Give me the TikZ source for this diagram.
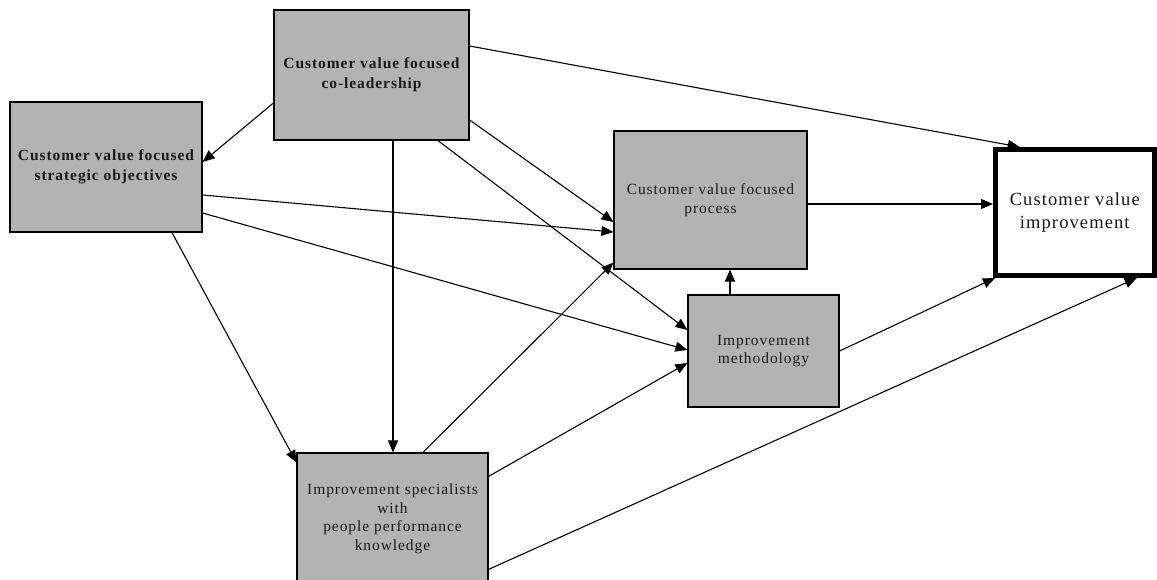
\documentclass[tikz,border=0pt]{standalone}
\usepackage{fontspec}
\setmainfont{Liberation Serif}
\newfontfamily\labelfont[LetterSpace=6]{Liberation Serif}
\usetikzlibrary{arrows.meta}
\definecolor{boxgray}{HTML}{B3B3B3}

\begin{document}
\begin{tikzpicture}[x=1pt,y=-1pt,
  box/.style={draw=black, line width=1.2pt, fill=boxgray, inner sep=0pt,
    align=center, text=black!90,
    font=\labelfont\fontsize{15.5}{18.5}\selectfont},
  boldbox/.style={box, font=\labelfont\bfseries\fontsize{15.5}{20}\selectfont},
  goalbox/.style={draw=black, line width=5pt, fill=white, inner sep=0pt,
    align=center, text=black!90,
    font=\labelfont\fontsize{18.5}{23}\selectfont},
  link/.style={line width=1.1pt, -{Triangle[length=12pt,width=10pt]}}]

\useasboundingbox[fill=white] (0,0) rectangle (1157,580);

% boxes
\node[boldbox, minimum width=195pt, minimum height=130pt] (top) at (371.5,75)
  {\raisebox{-2pt}{\begin{tabular}{@{}c@{}}Customer value focused\\co-leadership\end{tabular}}};
\node[boldbox, minimum width=192pt, minimum height=130pt] (lb) at (106,167)
  {Customer value focused\\strategic objectives};
\node[box, minimum width=193pt, minimum height=138pt] (proc) at (710.5,200)
  {Customer value focused\\process};
\node[box, minimum width=151pt, minimum height=112pt] (meth) at (763.5,351)
  {Improvement\\methodology};
\node[box, minimum width=191pt, minimum height=132pt] (spec) at (392.5,519)
  {Improvement specialists\\with\\people performance\\knowledge};
\node[goalbox, minimum width=158.5pt, minimum height=126pt] (right) at (1074.75,212.5)
  {Customer value\\improvement};

% links from the co-leadership box
\draw[link] ([yshift=-28]top.west) -- ([yshift=5]lb.east);
\draw[link] ([xshift=21.5]top.south) -- ([xshift=0.5]spec.north);
\draw[link] ([yshift=-45]top.east) -- ([yshift=-22]proc.west);
\draw[link] ([xshift=66.5]top.south) -- ([yshift=21]meth.west);
\draw[link] ([yshift=29]top.east) -- ([xshift=-55]right.north);

% links from the strategic objectives box
\draw[link] ([yshift=-28]lb.east) -- ([yshift=-32]proc.west);
\draw[link] ([yshift=-46]lb.east) -- ([yshift=1]meth.west);
\draw[link] ([xshift=66]lb.south) -- ([yshift=-10]spec.north west);

% links from the specialists box
\draw[link] ([xshift=30.5]spec.north) -- ([yshift=7]proc.south west);
\draw[link] ([yshift=-24]spec.north east) -- ([yshift=-12]meth.west);
\draw[link] ([yshift=-117]spec.north east) -- ([xshift=62]right.south);

% remaining links
\draw[link] ([xshift=-33.5]meth.north) -- ([xshift=19.5]proc.south);
\draw[link] ([yshift=-4]proc.east) -- ([yshift=8.5]right.west);
\draw[link] (meth.east) -- ([xshift=2]right.south west);
\end{tikzpicture}
\end{document}
